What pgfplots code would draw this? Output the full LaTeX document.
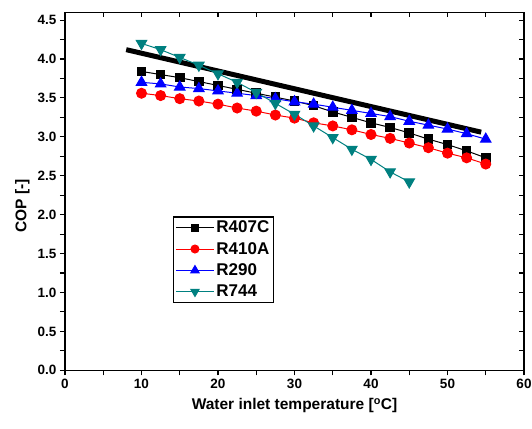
\documentclass[border=0pt]{standalone}
\usepackage{fontspec}
\setmainfont{Liberation Sans}
\usepackage{pgfplots}
\pgfplotsset{compat=1.18}
\definecolor{cteal}{RGB}{0,128,128}
\begin{document}
\begin{tikzpicture}
\pgfplotsset{
  common/.style={
    scale only axis, width=459pt, height=358pt,
    xmin=0, xmax=60, ymin=0, ymax=4.6,
    xtick={0,10,20,30,40,50,60}, minor xtick={5,15,25,35,45,55},
    ytick={0,0.5,1,1.5,2,2.5,3,3.5,4,4.5},
    minor ytick={0.25,0.75,1.25,1.75,2.25,2.75,3.25,3.75,4.25},
    major tick length=5pt, minor tick length=5pt,
    tick style={line width=1.1pt, black},
    axis line style={line width=1.4pt},
  }
}
\begin{axis}[common,
  xtick pos=top, ytick pos=right, tick align=inside,
  xticklabels={}, yticklabels={}]
\end{axis}
\begin{axis}[common, name=main,
  xtick pos=bottom, ytick pos=left, tick align=outside,
  /pgf/number format/assume math mode=true,
  ticklabel style={font=\fontsize{13.5}{15}\selectfont\bfseries},
  y tick label style={/pgf/number format/.cd, fixed, fixed zerofill, precision=1, /tikz/.cd},
  xlabel={Water inlet temperature [\textsuperscript{o}C]},
  ylabel={COP [-]},
  every axis x label/.style={at={(axis description cs:0.5,-0.098)}, anchor=center, font=\fontsize{15.5}{17}\selectfont\bfseries},
  every axis y label/.style={at={(axis description cs:-0.093,0.46)}, rotate=90, anchor=center, font=\fontsize{15.5}{17}\selectfont\bfseries},
  legend style={at={(0.235,0.43)}, anchor=north west, draw=black, line width=1.2pt,
    font=\fontsize{17}{19}\selectfont\bfseries, inner sep=2pt, row sep=4pt,
    cells={anchor=west}},
  legend image code/.code={\draw[mark repeat=2, mark phase=2, every mark/.append style={scale=0.8}] plot coordinates {(0pt,0pt)(19pt,0pt)(38pt,0pt)};},
]
\addplot[black, line width=5pt, forget plot] coordinates {(8,4.12) (54.4,3.06)};
\addplot[black, line width=1pt, mark=square*, mark size=4.3pt, mark options={solid}] coordinates {
(10,3.84) (12.5,3.80) (15,3.76) (17.5,3.71) (20,3.66) (22.5,3.61) (25,3.56) (27.5,3.51)
(30,3.46) (32.5,3.40) (35,3.32) (37.5,3.25) (40,3.18) (42.5,3.12) (45,3.05) (47.5,2.97)
(50,2.90) (52.5,2.82) (55,2.73)};
\addlegendentry{R407C}
\addplot[red, line width=1pt, mark=*, mark size=5pt, mark options={solid}] coordinates {
(10,3.56) (12.5,3.53) (15,3.49) (17.5,3.46) (20,3.42) (22.5,3.37) (25,3.33) (27.5,3.28)
(30,3.24) (32.5,3.18) (35,3.14) (37.5,3.09) (40,3.03) (42.5,2.98) (45,2.92) (47.5,2.86)
(50,2.79) (52.5,2.73) (55,2.65)};
\addlegendentry{R410A}
\addplot[blue, line width=1pt, mark=triangle*, mark size=6pt, mark options={solid}] coordinates {
(10,3.70) (12.5,3.68) (15,3.64) (17.5,3.62) (20,3.59) (22.5,3.56) (25,3.53) (27.5,3.49)
(30,3.45) (32.5,3.42) (35,3.38) (37.5,3.34) (40,3.30) (42.5,3.26) (45,3.20) (47.5,3.15)
(50,3.10) (52.5,3.04) (55,2.97)};
\addlegendentry{R290}
\addplot[cteal, line width=1pt, mark=triangle*, mark size=6pt, mark options={solid, rotate=180}] coordinates {
(10,4.20) (12.5,4.12) (15,4.02) (17.5,3.92) (20,3.81) (22.5,3.70) (25,3.57) (27.5,3.43)
(30,3.29) (32.5,3.14) (35,2.99) (37.5,2.84) (40,2.71) (42.5,2.55) (45,2.42)};
\addlegendentry{R744}
\end{axis}
\pgfresetboundingbox
\path ([shift={(-65pt,-58pt)}]main.south west) rectangle ([shift={(8pt,12.3pt)}]main.north east);
\end{tikzpicture}
\end{document}
